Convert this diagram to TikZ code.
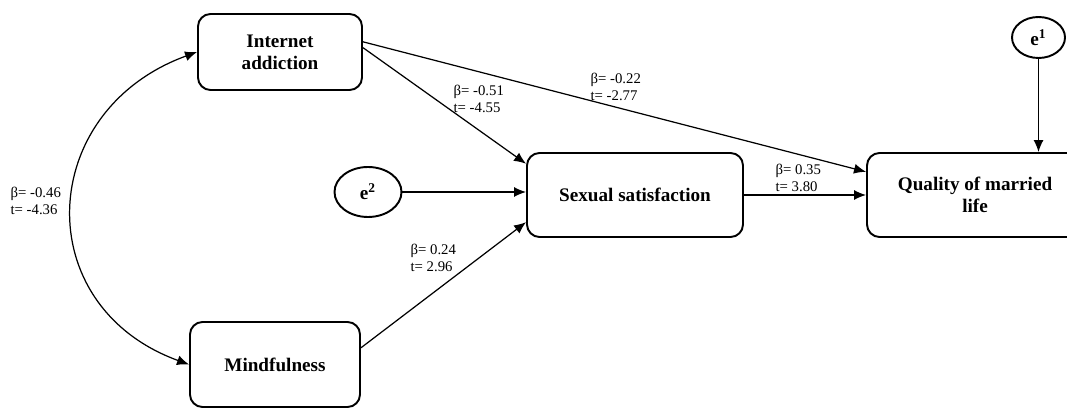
\documentclass[tikz,border=0pt]{standalone}
\usepackage{fontspec}
\setmainfont{Liberation Serif}
\usetikzlibrary{arrows.meta,shapes.geometric}

\begin{document}
\begin{tikzpicture}[>={Latex[length=2.4mm,width=2mm]},
    box/.style={draw, line width=1.1pt, rounded corners=0.25cm, align=center, inner sep=0pt, font=\fontsize{10.9}{12.5}\selectfont\bfseries},
    err/.style={draw, ellipse, line width=1.1pt, inner sep=0pt, font=\fontsize{10.9}{12.5}\selectfont\bfseries},
    lbl/.style={align=left, anchor=west, inner sep=0pt, font=\fontsize{8.4}{10}\selectfont},
    every path/.append style={line width=0.7pt}]
    \useasboundingbox (0,0) rectangle (21.34,8.2);
    \node[box, minimum width=3.28cm, minimum height=1.52cm] (ia) at (5.60,7.16) {Internet\\addiction};
    \node[box, minimum width=3.40cm, minimum height=1.70cm] (mf) at (5.50,0.91) {Mindfulness};
    \node[box, minimum width=4.32cm, minimum height=1.68cm] (ss) at (12.70,4.30) {Sexual satisfaction};
    \node[box, minimum width=4.32cm, minimum height=1.68cm] (ql) at (19.50,4.30) {Quality of married\\life};
    \node[err, minimum width=1.06cm, minimum height=0.82cm] (e1) at (20.77,7.45) {e\textsuperscript{1}};
    \node[err, minimum width=1.34cm, minimum height=1.00cm] (e2) at (7.36,4.36) {e\textsuperscript{2}};
    % path coefficients
    \node[lbl] (c1) at (0.20,4.18) {β= -0.46\\t= -4.36};
    \node[lbl] (c2) at (9.06,6.22) {β= -0.51\\t= -4.55};
    \node[lbl] (c3) at (11.80,6.46) {β= -0.22\\t= -2.77};
    \node[lbl] (c4) at (15.50,4.64) {β= 0.35\\t= 3.80};
    \node[lbl] (c5) at (8.20,3.04) {β= 0.24\\t= 2.96};
    \draw[<->] (ia.west) to[out=200,in=160,looseness=1.4] (mf.west);
    \draw[->] (ia.3) -- (ss.164);
    \draw[->] (ia.7) -- (ql.168);
    \draw[->] (e2) -- (e2 -| ss.west);
    \draw[->] (mf.11) -- (ss.194);
    \draw[->] (ss.east) -- (ql.west);
    \draw[->] (e1) -- (e1 |- ql.north);
\end{tikzpicture}
\end{document}
